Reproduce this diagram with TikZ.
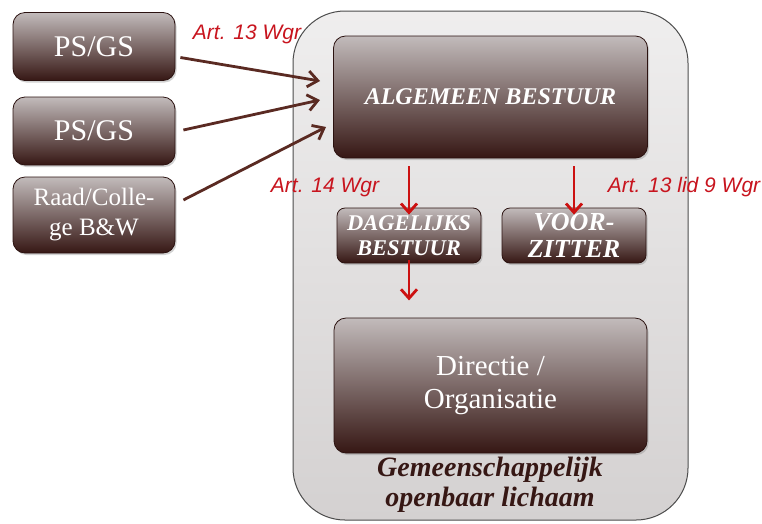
\documentclass[tikz,border=0pt]{standalone}
\usepackage{fontspec}
\setmainfont{Liberation Serif}
\newfontfamily\labelfont{Liberation Sans}
\usetikzlibrary{arrows.meta,shadows}
\definecolor{boxtop}{HTML}{C2BBBB}
\definecolor{boxbot}{HTML}{361714}
\definecolor{brownarrow}{HTML}{5A2A22}
\definecolor{redarrow}{HTML}{CC1111}
\definecolor{redtext}{HTML}{C8141E}
\definecolor{framebg}{HTML}{EFEEEE}
\definecolor{framebot}{HTML}{D4D1D1}
\tikzset{
  orgbox/.style={rounded corners=12pt, draw=boxbot!80!black, line width=0.8pt,
    top color=boxtop, bottom color=boxbot,
    drop shadow={shadow xshift=1.5pt, shadow yshift=-2pt, opacity=0.35},
    text=white, align=center, inner sep=0pt},
  feed/.style={draw=brownarrow, line width=2.8pt, -{Straight Barb[length=10pt,width=16pt,line width=2.8pt]}},
  down/.style={draw=redarrow, line width=2.8pt, -{Straight Barb[length=9pt,width=16pt,line width=2.8pt]}},
  artlabel/.style={text=redtext, font=\labelfont\itshape\fontsize{21}{24}\selectfont, inner sep=0pt}
}
\begin{document}
\begin{tikzpicture}[x=1pt,y=-1pt]
\useasboundingbox[fill=white] (0,0) rectangle (762,523);

% outer frame: the joint body
\path[rounded corners=52pt, draw=black!70, line width=1pt, top color=framebg, bottom color=framebot]
  (293,11) rectangle (688,520);

% source bodies on the left
\node[orgbox, minimum width=162pt, minimum height=68pt, font=\fontsize{30}{32}\selectfont] (ps1) at (94,46.5) {PS/GS};
\node[orgbox, minimum width=162pt, minimum height=68pt, font=\fontsize{30}{32}\selectfont] (ps2) at (94,131) {PS/GS};
\node[orgbox, minimum width=162pt, minimum height=76pt, font=\fontsize{25}{30}\selectfont] (raad) at (94,215) {Raad/Colle-\\ge B\&W};

% bodies inside the frame
\node[orgbox, minimum width=314pt, minimum height=122pt, font=\bfseries\itshape\fontsize{24}{28}\selectfont] (ab) at (490.5,97) {ALGEMEEN BESTUUR};
\node[orgbox, minimum width=144pt, minimum height=55pt, rounded corners=8pt, font=\bfseries\itshape\fontsize{22.5}{25}\selectfont] (db) at (409,235.5) {DAGELIJKS\\BESTUUR};
\node[orgbox, minimum width=144pt, minimum height=55pt, rounded corners=8pt, font=\bfseries\itshape\fontsize{26}{27}\selectfont] (vz) at (574,235.5) {VOOR-\\ZITTER};
\node[orgbox, minimum width=313pt, minimum height=135pt, font=\fontsize{29}{33}\selectfont] (dir) at (490.5,385.5) {Directie /\\Organisatie};

\node[text=boxbot, align=center, font=\bfseries\itshape\fontsize{28}{30}\selectfont] (gol) at (490,485) {Gemeenschappelijk\\openbaar lichaam};

% appointment arrows into the general board
\coordinate (a1) at (320,81);
\coordinate (a2) at (320,100);
\coordinate (a3) at (326,127);
\draw[feed] (ps1.east) ++(5,11) -- (a1);
\draw[feed] (ps2.east) ++(8,-1) -- (a2);
\draw[feed] (raad.east) ++(8,-15) -- (a3);

% internal arrows
\draw[down] (ab.south -| db) ++(0,8) -- ([yshift=-7pt]db.north);
\draw[down] (ab.south -| vz) ++(0,8) -- ([yshift=-7pt]vz.north);
\draw[down] ([yshift=3pt]db.south) -- ++(0,40);

% legal references
\node[artlabel] (l1) at (247,34) {Art. 13 Wgr};
\node[artlabel] (l2) at (325,187) {Art. 14 Wgr};
\node[artlabel] (l3) at (684,187) {Art. 13 lid 9 Wgr};
\end{tikzpicture}
\end{document}
